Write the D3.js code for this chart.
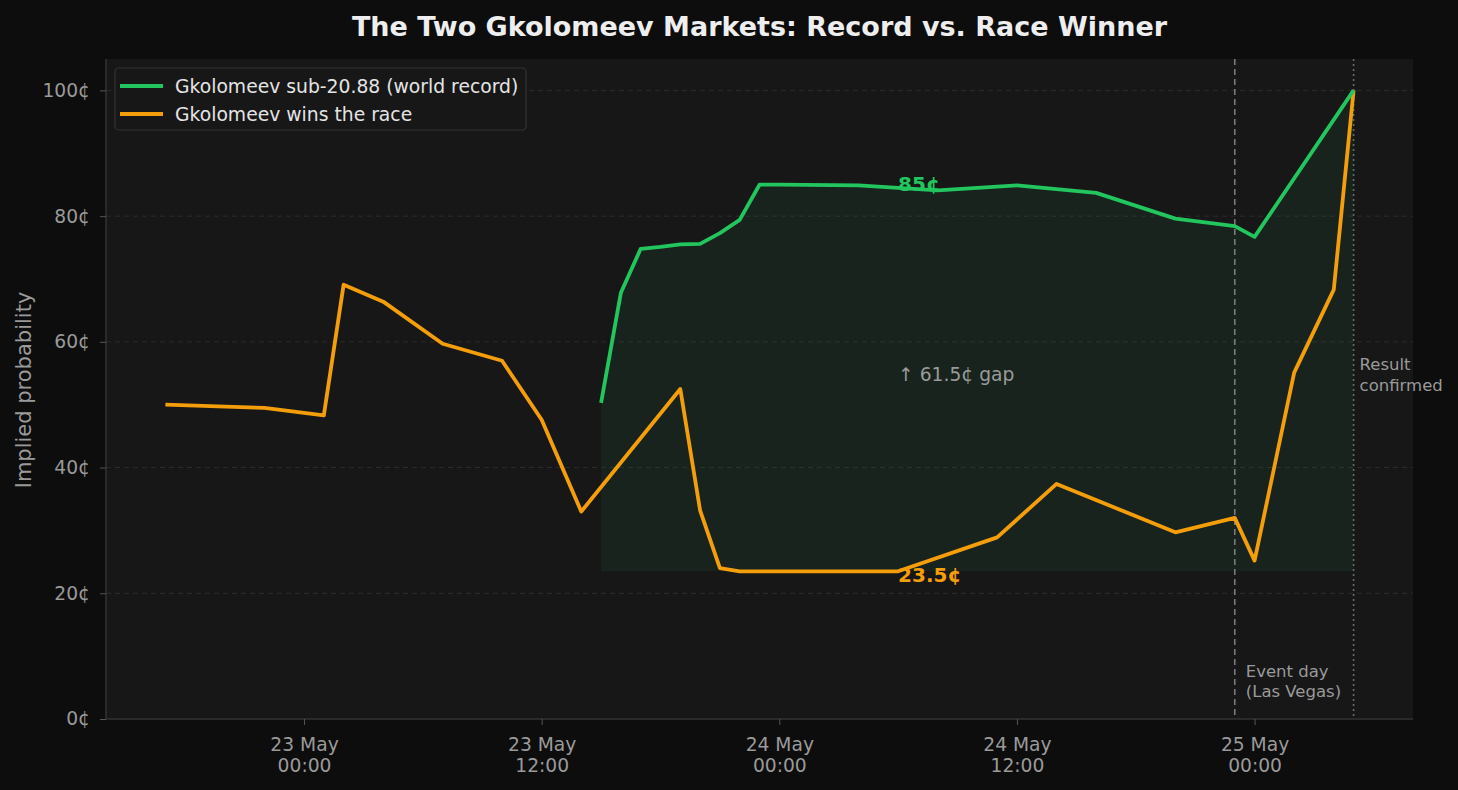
<!DOCTYPE html>
<html>
<head>
<meta charset="utf-8">
<script src="https://cdn.jsdelivr.net/npm/d3@7"></script>
<style>
  html, body { margin: 0; padding: 0; background: #0d0d0d; }
  svg { display: block; font-family: "DejaVu Sans", sans-serif; }
</style>
</head>
<body>
<svg id="chart" width="1458" height="790"></svg>
<script>
// record market: Gkolomeev sub-20.88 (world record)
const recordTimes = ["2026-05-23 15:00", "2026-05-23 16:00", "2026-05-23 17:00", "2026-05-23 18:00",
  "2026-05-23 19:00", "2026-05-23 20:00", "2026-05-23 21:00", "2026-05-23 22:00", "2026-05-23 23:00",
  "2026-05-24 00:00", "2026-05-24 04:00", "2026-05-24 08:00", "2026-05-24 12:00", "2026-05-24 16:00",
  "2026-05-24 20:00", "2026-05-24 23:00", "2026-05-25 00:00", "2026-05-25 05:00"];
const recordValues = [50.3, 67.8, 74.8, 75.1, 75.5, 75.6, 77.3, 79.4, 85.0,
  85.0, 84.9, 84.1, 84.9, 83.7, 79.6, 78.4, 76.7, 100];

// race market: Gkolomeev wins the race
const raceTimes = ["2026-05-22 17:00", "2026-05-22 22:00", "2026-05-23 01:00", "2026-05-23 02:00",
  "2026-05-23 04:00", "2026-05-23 07:00", "2026-05-23 10:00", "2026-05-23 12:00", "2026-05-23 14:00",
  "2026-05-23 19:00", "2026-05-23 20:00", "2026-05-23 21:00", "2026-05-23 22:00", "2026-05-24 06:00",
  "2026-05-24 11:00", "2026-05-24 14:00", "2026-05-24 20:00", "2026-05-24 23:00", "2026-05-25 00:00",
  "2026-05-25 02:00", "2026-05-25 04:00", "2026-05-25 05:00"];
const raceValues = [50.0, 49.5, 48.3, 69.1, 66.4, 59.7, 57.0, 47.6, 33.0,
  52.5, 33.2, 24.0, 23.5, 23.5, 28.9, 37.4, 29.7, 32.0, 25.2, 55.1, 68.3, 100];

const yTicks = [0, 20, 40, 60, 80, 100];
const xDomain = ["2026-05-22 14:00", "2026-05-25 08:00"];
const eventTime = "2026-05-24 23:00";
const resultTime = "2026-05-25 05:00";
const peakLabel = { time: "2026-05-24 06:00", value: 85, text: "85¢" };
const lowLabel = { time: "2026-05-24 06:00", value: 23.5, text: "23.5¢" };
const gapText = "↑ 61.5¢ gap";

const parse = d3.timeParse("%Y-%m-%d %H:%M");
const record = recordTimes.map((t, i) => ({ t: parse(t), v: recordValues[i] }));
const race = raceTimes.map((t, i) => ({ t: parse(t), v: raceValues[i] }));

const green = "#22c55e";
const orange = "#f59e0b";
const muted = "#9a9a9a";

const svg = d3.select("#chart");
const plotL = 106, plotR = 1413, plotT = 59, plotB = 719;

const x = d3.scaleTime().domain(xDomain.map(parse)).range([plotL, plotR]);
const y = d3.scaleLinear().domain([0, 105]).range([plotB, plotT]);

// background of figure and plot area
svg.append("rect").attr("width", 1458).attr("height", 790).attr("fill", "#0d0d0d");
svg.append("rect").attr("x", plotL).attr("y", plotT)
  .attr("width", plotR - plotL).attr("height", plotB - plotT).attr("fill", "#171717");

// horizontal grid
svg.append("g").selectAll("line")
  .data(yTicks.filter(d => d > 0))
  .enter().append("line")
  .attr("x1", plotL).attr("x2", plotR)
  .attr("y1", d => y(d)).attr("y2", d => y(d))
  .attr("stroke", "#2c2c2c").attr("stroke-width", 1)
  .attr("stroke-dasharray", "5,4");

// shaded gap between record line and race low
const area = d3.area()
  .x(d => x(d.t))
  .y0(y(lowLabel.value))
  .y1(d => y(d.v));
svg.append("path").datum(record)
  .attr("d", area)
  .attr("fill", green).attr("fill-opacity", 0.07);

// vertical markers
svg.append("line")
  .attr("x1", x(parse(eventTime))).attr("x2", x(parse(eventTime)))
  .attr("y1", plotT).attr("y2", plotB)
  .attr("stroke", "#7a7a7a").attr("stroke-width", 1.6)
  .attr("stroke-dasharray", "6,4");
svg.append("line")
  .attr("x1", x(parse(resultTime))).attr("x2", x(parse(resultTime)))
  .attr("y1", plotT).attr("y2", plotB)
  .attr("stroke", "#607266").attr("stroke-width", 1.6)
  .attr("stroke-dasharray", "2,3");

// axes
const yAxis = svg.append("g")
  .attr("transform", "translate(" + plotL + ",0)")
  .call(d3.axisLeft(y).tickValues(yTicks).tickFormat(d => d + "¢").tickSize(6).tickPadding(10));
const xAxis = svg.append("g")
  .attr("transform", "translate(0," + plotB + ")")
  .call(d3.axisBottom(x).ticks(d3.timeHour.every(12)).tickSize(6).tickPadding(8)
    .tickFormat(d3.timeFormat("%d May|%H:%M")));

[yAxis, xAxis].forEach(g => {
  g.select(".domain").attr("stroke", "#333").attr("stroke-width", 1.5);
  g.selectAll(".tick line").attr("stroke", "#555");
  g.selectAll(".tick text").attr("fill", muted)
    .style("font-size", "18.7px").style("font-family", "DejaVu Sans, sans-serif");
});
yAxis.select(".domain").attr("d", "M0," + plotT + "V" + plotB);
xAxis.select(".domain").attr("d", "M" + plotL + ",0H" + plotR);

// split the x tick labels onto two lines
xAxis.selectAll(".tick text").each(function() {
  const parts = d3.select(this).text().split("|");
  const t = d3.select(this).text(null);
  t.append("tspan").attr("x", 0).attr("dy", "0.97em").text(parts[0]);
  t.append("tspan").attr("x", 0).attr("dy", "1.12em").text(parts[1]);
});

// lines
const line = d3.line().x(d => x(d.t)).y(d => y(d.v));
svg.append("path").datum(race)
  .attr("d", line).attr("fill", "none")
  .attr("stroke", orange).attr("stroke-width", 3.8).attr("stroke-linejoin", "round");
svg.append("path").datum(record)
  .attr("d", line).attr("fill", "none")
  .attr("stroke", green).attr("stroke-width", 3.8).attr("stroke-linejoin", "round");

// value labels
svg.append("text")
  .attr("x", x(parse(peakLabel.time))).attr("y", y(peakLabel.value) - 1)
  .attr("dominant-baseline", "central")
  .attr("fill", green).style("font-weight", "bold").style("font-size", "20px")
  .text(peakLabel.text);
svg.append("text")
  .attr("x", x(parse(lowLabel.time))).attr("y", y(lowLabel.value) + 4)
  .attr("dominant-baseline", "central")
  .attr("fill", orange).style("font-weight", "bold").style("font-size", "20px")
  .text(lowLabel.text);
svg.append("text")
  .attr("x", x(parse(peakLabel.time))).attr("y", y((peakLabel.value + lowLabel.value) / 2) - 4)
  .attr("dominant-baseline", "central")
  .attr("fill", muted).style("font-size", "18.7px")
  .text(gapText);

// marker notes
const evt = svg.append("text").attr("fill", muted).style("font-size", "16.5px");
evt.append("tspan").attr("x", x(parse(eventTime)) + 11).attr("y", 677).text("Event day");
evt.append("tspan").attr("x", x(parse(eventTime)) + 11).attr("y", 697).text("(Las Vegas)");
const res = svg.append("text").attr("fill", muted).style("font-size", "16.5px");
res.append("tspan").attr("x", x(parse(resultTime)) + 6).attr("y", 370).text("Result");
res.append("tspan").attr("x", x(parse(resultTime)) + 6).attr("y", 391).text("confirmed");

// title and y label
svg.append("text")
  .attr("x", (plotL + plotR) / 2).attr("y", 36)
  .attr("text-anchor", "middle")
  .attr("fill", "#eeeeee").style("font-weight", "bold").style("font-size", "27px")
  .text("The Two Gkolomeev Markets: Record vs. Race Winner");
svg.append("text")
  .attr("transform", "translate(31,390) rotate(-90)")
  .attr("text-anchor", "middle")
  .attr("fill", muted).style("font-size", "21px")
  .text("Implied probability");

// legend
const legend = svg.append("g");
legend.append("rect")
  .attr("x", 115).attr("y", 68).attr("width", 411).attr("height", 62).attr("rx", 4)
  .attr("fill", "#171717").attr("stroke", "#333").attr("stroke-width", 1.2);
const entries = [
  { label: "Gkolomeev sub-20.88 (world record)", color: green },
  { label: "Gkolomeev wins the race", color: orange }
];
entries.forEach((e, i) => {
  const ly = 86 + i * 28;
  legend.append("line")
    .attr("x1", 120).attr("x2", 163).attr("y1", ly).attr("y2", ly)
    .attr("stroke", e.color).attr("stroke-width", 3.8);
  legend.append("text")
    .attr("x", 175).attr("y", ly).attr("dominant-baseline", "central")
    .attr("fill", "#e4e4e4").style("font-size", "18.75px")
    .text(e.label);
});
</script>
</body>
</html>
